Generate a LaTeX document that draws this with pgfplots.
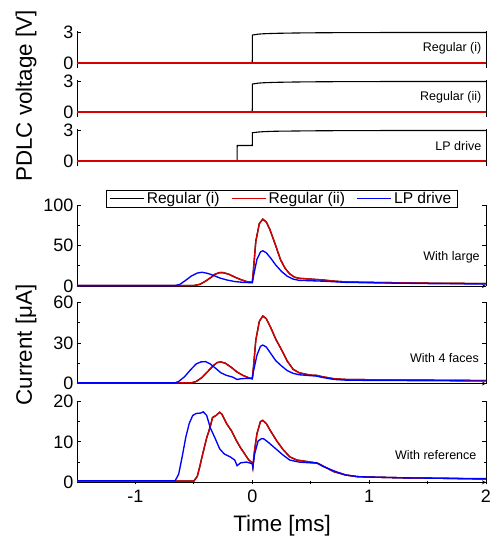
\documentclass[border=0pt]{standalone}
\usepackage{pgfplots}
\pgfplotsset{compat=1.18}
\usepackage{fontspec}
\setmainfont{Liberation Sans}
\definecolor{cred}{RGB}{215,0,0}
\definecolor{cblue}{RGB}{0,0,255}
\tikzset{
  ann/.style={anchor=east, inner sep=0pt, font=\fontsize{12.5bp}{14bp}\selectfont},
  dl/.style={line width=1.35bp}
}
\pgfplotsset{
  panel/.style={scale only axis, width=409bp, xmin=-1.5, xmax=2, anchor=south west,
    tick align=inside, major tick length=4bp, minor tick length=2.5bp,
    axis line style={line width=0.8bp,-}, x axis line style={-}, y axis line style={-},
    every tick/.style={line width=0.8bp, black},
    tick label style={font=\fontsize{18bp}{20bp}\selectfont},
    /pgf/number format/assume math mode=true},
  volt/.style={panel, height=37bp, ymin=-0.5, ymax=3.15, axis x line=none, axis y line=box,
    ytick={0,3}, xtick=\empty},
  curr/.style={panel, height=81bp, ymin=0, axis x line=bottom, axis y line=box,
    minor y tick num=1}
}
\begin{document}
\begin{tikzpicture}
\useasboundingbox (0,0) rectangle (492bp,-539bp);
% ---------- Voltage panels ----------
\begin{axis}[volt, at={(77bp,-68bp)}]
\addplot[dl, black, line width=1.1bp] coordinates {(-1.5,0)(0,0)(0.001,2.75)(0.05,2.84)(0.1,2.88)(0.2,2.92)(0.35,2.95)(0.5,2.97)(0.8,2.99)(1.2,3)(2,3)};
\addplot[dl, cred, line width=1.3bp] coordinates {(-1.5,0)(2,0)};
\node[ann] at (rel axis cs:0.989,0.53) {Regular (i)};
\end{axis}
\begin{axis}[volt, at={(77bp,-117bp)}]
\addplot[dl, black, line width=1.1bp] coordinates {(-1.5,0)(0,0)(0.001,2.75)(0.05,2.84)(0.1,2.88)(0.2,2.92)(0.35,2.95)(0.5,2.97)(0.8,2.99)(1.2,3)(2,3)};
\addplot[dl, cred, line width=1.3bp] coordinates {(-1.5,0)(2,0)};
\node[ann] at (rel axis cs:0.989,0.53) {Regular (ii)};
\end{axis}
\begin{axis}[volt, at={(77bp,-166bp)}]
\addplot[dl, black, line width=1.1bp] coordinates {(-1.5,0)(-0.13,0)(-0.129,1.52)(0,1.52)(0.001,2.78)(0.05,2.85)(0.1,2.89)(0.2,2.93)(0.35,2.95)(0.5,2.97)(0.8,2.99)(1.2,3)(2,3)};
\addplot[dl, cred, line width=1.3bp] coordinates {(-1.5,0)(2,0)};
\node[ann] at (rel axis cs:0.989,0.55) {LP drive};
\end{axis}
% ---------- Current panels ----------
\begin{axis}[curr, at={(77bp,-286bp)}, ymax=100, ytick={0,50,100}, xtick=\empty,
  legend columns=3,
  legend style={at={(0.5,1)}, anchor=south, yshift=-3bp, draw=black, line width=0.6bp,
    font=\fontsize{15.6bp}{17bp}\selectfont, inner xsep=3bp, inner ysep=0.5bp,
    /tikz/every even column/.append style={column sep=9bp},
    nodes={inner xsep=2.5bp, inner ysep=2bp}},
  legend image code/.code={\draw[#1, line width=1.1bp] (0bp,0bp) -- (34bp,0bp);}]
\addplot[dl, black] coordinates {(-1.5,0.5)(-0.55,0.5)(-0.5,0.6)(-0.45,2)(-0.4,6)(-0.35,11)(-0.32,14.5)(-0.28,16.5)(-0.25,16.5)(-0.2,14.5)(-0.15,11)(-0.1,8)(-0.05,5.5)(0,4.5)(0.01,20)(0.03,55)(0.06,77)(0.09,82.5)(0.12,79)(0.15,70)(0.2,50)(0.24,33)(0.28,22)(0.32,15)(0.36,11)(0.4,9.5)(0.5,8.5)(0.6,7.5)(0.7,6)(0.8,5)(1.0,4.5)(1.5,3.5)(2.0,3)};
\addlegendentry{Regular (i)}
\addplot[dl, cred] coordinates {(-1.5,0.5)(-0.55,0.5)(-0.5,0.6)(-0.45,2)(-0.4,6)(-0.35,11)(-0.32,14.5)(-0.28,16.5)(-0.25,16.5)(-0.2,14.5)(-0.15,11)(-0.1,8)(-0.05,5.5)(0,4.5)(0.01,20)(0.03,55)(0.06,77)(0.09,82.5)(0.12,79)(0.15,70)(0.2,50)(0.24,33)(0.28,22)(0.32,15)(0.36,11)(0.4,9.5)(0.5,8.5)(0.6,7.5)(0.7,6)(0.8,5)(1.0,4.5)(1.5,3.5)(2.0,3)};
\addlegendentry{Regular (ii)}
\addplot[dl, cblue] coordinates {(-1.5,0.5)(-0.66,0.5)(-0.62,2)(-0.57,7)(-0.52,12.5)(-0.47,16)(-0.43,17)(-0.38,15.5)(-0.33,13)(-0.28,10)(-0.22,7.5)(-0.15,5.5)(-0.08,4.5)(0,4)(0.01,12)(0.04,33)(0.07,42)(0.09,43.5)(0.12,41)(0.16,34)(0.2,26)(0.25,18)(0.3,12)(0.35,8.5)(0.4,7)(0.5,6.5)(0.6,6)(0.8,4.5)(1.0,4)(1.5,3)(2.0,2.5)};
\addlegendentry{LP drive}
\node[ann] at (rel axis cs:0.985,0.36) {With large};
\end{axis}
\begin{axis}[curr, at={(77bp,-383.5bp)}, ymax=60, ytick={0,30,60}, xtick=\empty]
\addplot[dl, black] coordinates {(-1.5,0.5)(-0.52,0.5)(-0.48,1.5)(-0.43,4.5)(-0.38,9)(-0.33,13.5)(-0.3,15.5)(-0.27,16)(-0.23,15)(-0.18,12)(-0.13,8.5)(-0.08,6)(-0.03,4.2)(0,3.5)(0.01,12)(0.03,32)(0.06,46)(0.09,50)(0.12,48)(0.16,41)(0.2,33)(0.25,25)(0.3,16.5)(0.35,10.5)(0.4,8)(0.45,7)(0.5,6.2)(0.55,6)(0.6,5)(0.7,3.5)(0.8,3)(1.0,2.8)(1.5,2.5)(2.0,2.2)};
\addplot[dl, cred] coordinates {(-1.5,0.5)(-0.52,0.5)(-0.48,1.5)(-0.43,4.5)(-0.38,9)(-0.33,13.5)(-0.3,15.5)(-0.27,16)(-0.23,15)(-0.18,12)(-0.13,8.5)(-0.08,6)(-0.03,4.2)(0,3.5)(0.01,12)(0.03,32)(0.06,46)(0.09,50)(0.12,48)(0.16,41)(0.2,33)(0.25,25)(0.3,16.5)(0.35,10.5)(0.4,8)(0.45,7)(0.5,6.2)(0.55,6)(0.6,5)(0.7,3.5)(0.8,3)(1.0,2.8)(1.5,2.5)(2.0,2.2)};
\addplot[dl, cblue] coordinates {(-1.5,0.5)(-0.66,0.5)(-0.63,1.5)(-0.58,5)(-0.53,10)(-0.48,14.5)(-0.44,16)(-0.4,16.2)(-0.36,14.5)(-0.31,11)(-0.27,8)(-0.22,6)(-0.17,4.8)(-0.13,3)(-0.1,3.5)(-0.05,3.8)(0,3.7)(0.01,9)(0.04,21)(0.07,27.5)(0.09,28.5)(0.12,27)(0.16,22)(0.2,17)(0.25,13)(0.3,9.5)(0.35,7.5)(0.4,6.5)(0.5,5.8)(0.55,5.5)(0.6,4.5)(0.7,3)(0.8,2.5)(1.0,2.3)(1.5,2.1)(2.0,1.8)};
\node[ann] at (rel axis cs:0.983,0.31) {With 4 faces};
\end{axis}
\begin{axis}[curr, at={(77bp,-482.3bp)}, ymax=20, ytick={0,10,20},
  xtick={-1,0,1,2}, xticklabels={-1,0,1,2}, minor x tick num=1,
  xticklabel style={yshift=-2bp}]
\addplot[dl, black] coordinates {(-1.5,0.3)(-0.5,0.3)(-0.47,1.5)(-0.45,3.8)(-0.42,7.5)(-0.39,11)(-0.36,13.7)(-0.34,16)(-0.31,16.5)(-0.28,17.3)(-0.26,16.8)(-0.22,14.5)(-0.18,12.8)(-0.14,10.5)(-0.1,8.5)(-0.06,6.8)(-0.03,5.5)(0,4.8)(0.005,3.8)(0.02,8)(0.04,12)(0.07,15)(0.09,15.3)(0.12,14.5)(0.16,12.5)(0.21,10.2)(0.26,8.2)(0.32,6.3)(0.38,5.5)(0.45,5.2)(0.52,4.9)(0.56,4.7)(0.62,3.8)(0.7,2.6)(0.8,1.8)(0.9,1.4)(1.0,1.3)(1.3,1.1)(1.6,1.0)(2.0,0.8)};
\addplot[dl, cred] coordinates {(-1.5,0.3)(-0.5,0.3)(-0.47,1.5)(-0.45,3.8)(-0.42,7.5)(-0.39,11)(-0.36,13.7)(-0.34,16)(-0.31,16.5)(-0.28,17.3)(-0.26,16.8)(-0.22,14.5)(-0.18,12.8)(-0.14,10.5)(-0.1,8.5)(-0.06,6.8)(-0.03,5.5)(0,4.8)(0.005,3.8)(0.02,8)(0.04,12)(0.07,15)(0.09,15.3)(0.12,14.5)(0.16,12.5)(0.21,10.2)(0.26,8.2)(0.32,6.3)(0.38,5.5)(0.45,5.2)(0.52,4.9)(0.56,4.7)(0.62,3.8)(0.7,2.6)(0.8,1.8)(0.9,1.4)(1.0,1.3)(1.3,1.1)(1.6,1.0)(2.0,0.8)};
\addplot[dl, cblue] coordinates {(-1.5,0.4)(-0.66,0.4)(-0.63,2)(-0.6,6.3)(-0.57,11)(-0.54,14.5)(-0.51,16.5)(-0.48,17)(-0.44,17.1)(-0.42,17.4)(-0.39,16.5)(-0.36,13.5)(-0.32,11)(-0.28,8.3)(-0.24,7)(-0.19,6.3)(-0.15,5.5)(-0.13,4.1)(-0.1,4.8)(-0.05,5)(0,4.6)(0.005,3.8)(0.02,7)(0.05,10.2)(0.08,10.8)(0.1,10.7)(0.14,9.8)(0.2,8.3)(0.26,6.8)(0.32,5.5)(0.4,5)(0.5,4.8)(0.55,4.8)(0.6,4)(0.7,2.8)(0.8,1.8)(0.9,1.4)(1.0,1.3)(1.3,1.1)(1.6,1.0)(2.0,0.9)};
\node[ann] at (rel axis cs:0.977,0.336) {With reference};
\end{axis}
% ---------- Axis titles ----------
\node[rotate=90, font=\fontsize{22.4bp}{24bp}\selectfont] at (26bp,-96bp) {PDLC voltage [V]};
\node[rotate=90, font=\fontsize{22.4bp}{24bp}\selectfont] at (26bp,-345bp) {Current [μA]};
\node[font=\fontsize{22.4bp}{24bp}\selectfont] at (282bp,-526bp) {Time [ms]};
\end{tikzpicture}
\end{document}
